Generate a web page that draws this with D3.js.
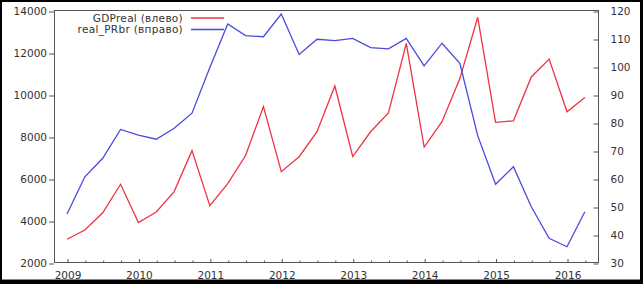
<!DOCTYPE html>
<html>
<head>
<meta charset="utf-8">
<script src="https://cdn.jsdelivr.net/npm/d3@7"></script>
<style>
    body { margin: 0; background: #fff; }
    svg text { font-family: "DejaVu Sans", Verdana, sans-serif; fill: #333; }
</style>
</head>
<body>
<svg id="chart"></svg>
<script>
let width = 643,
    height = 284;

// quarterly data, 2009Q1 .. 2016Q2
let quarters = d3.range(0, 30).map(i => 2009 + i / 4);
let gdpReal = [3130, 3570, 4390, 5750, 3930, 4430, 5400, 7350,
    4730, 5780, 7120, 9450, 6350, 7060, 8250, 10430,
    7070, 8250, 9150, 12460, 7520, 8730, 10780, 13700,
    8700, 8770, 10860, 11710, 9200, 9880];
let realPRbr = [47.5, 60.8, 67.4, 77.7, 75.7, 74.2, 78.1, 83.5,
    99.8, 115.4, 111.2, 110.8, 118.9, 104.5, 109.9, 109.4,
    110.2, 106.9, 106.5, 110.2, 100.4, 108.5, 101.3, 75.5,
    58.1, 64.4, 50.1, 38.8, 35.8, 48.3];
let yearTicks = [2009, 2010, 2011, 2012, 2013, 2014, 2015, 2016];
let leftTicks = [2000, 4000, 6000, 8000, 10000, 12000, 14000];
let rightTicks = [30, 40, 50, 60, 70, 80, 90, 100, 110, 120];
let seriesNames = ['GDPreal (влево)', 'real_PRbr (вправо)'];
let colors = ['#ee3344', '#4a4ade'];

let plot = {left: 54, right: 598, top: 11, bottom: 263};

let svg = d3.select('svg#chart')
    .attr('width', width)
    .attr('height', height);

// outer black frame
svg.append('rect').attr('width', width).attr('height', height).attr('fill', '#000');
svg.append('rect').attr('x', 2).attr('y', 2).attr('width', width - 5).attr('height', height - 6).attr('fill', '#fff');
svg.append('line').attr('x1', 2).attr('x2', width - 3).attr('y1', 279.5).attr('y2', 279.5)
    .attr('stroke', '#888').attr('stroke-width', 1);

let x = d3.scaleLinear().domain([2008.818, 2016.434]).range([plot.left, plot.right]);
let yL = d3.scaleLinear().domain([2000, 14000]).range([plot.bottom, plot.top]);
let yR = d3.scaleLinear().domain([30, 120]).range([plot.bottom, plot.top]);

// plot box
svg.append('rect')
    .attr('x', plot.left + 0.5).attr('y', plot.top - 0.5)
    .attr('width', plot.right - plot.left).attr('height', plot.bottom - plot.top)
    .attr('fill', 'none').attr('stroke', '#555').attr('stroke-width', 1);

function styleAxis(g) {
    g.select('.domain').remove();
    g.selectAll('.tick line').attr('stroke', '#555');
    g.selectAll('.tick text').attr('font-size', '10.5px').attr('fill', '#333')
        .style('font-family', '"DejaVu Sans", Verdana, sans-serif');
}

// bottom axis: minor quarter ticks, then year ticks with labels
svg.append('g')
    .attr('transform', `translate(0.5,${plot.bottom})`)
    .call(d3.axisBottom(x).tickValues(quarters.filter(q => q % 1 !== 0)).tickSize(-2.5).tickFormat(''))
    .call(styleAxis);
svg.append('g')
    .attr('transform', `translate(0.5,${plot.bottom})`)
    .call(d3.axisBottom(x).tickValues(yearTicks).tickSize(-4).tickPadding(9).tickFormat(d3.format('d')))
    .call(styleAxis);

svg.append('g')
    .attr('transform', `translate(${plot.left},0.5)`)
    .call(d3.axisLeft(yL).tickValues(leftTicks).tickSize(5).tickPadding(2).tickFormat(d3.format('d')))
    .call(styleAxis);

svg.append('g')
    .attr('transform', `translate(${plot.right + 0.5},0.5)`)
    .call(d3.axisRight(yR).tickValues(rightTicks).tickSize(-5).tickPadding(12).tickFormat(d3.format('d')))
    .call(styleAxis);

let lineL = d3.line().x((d, i) => x(quarters[i])).y(d => yL(d));
let lineR = d3.line().x((d, i) => x(quarters[i])).y(d => yR(d));

svg.append('path').datum(gdpReal)
    .attr('d', lineL).attr('fill', 'none')
    .attr('stroke', colors[0]).attr('stroke-width', 1.3).attr('stroke-linejoin', 'miter');
svg.append('path').datum(realPRbr)
    .attr('d', lineR).attr('fill', 'none')
    .attr('stroke', colors[1]).attr('stroke-width', 1.3).attr('stroke-linejoin', 'miter');

// legend
let legend = svg.append('g');
seriesNames.forEach((name, i) => {
    let ly = 18 + i * 11.5;
    legend.append('text')
        .attr('x', 183).attr('y', ly).attr('dy', '0.35em')
        .attr('text-anchor', 'end').attr('font-size', '10.5px')
        .attr('letter-spacing', '0.3px')
        .text(name);
    legend.append('line')
        .attr('x1', 191).attr('x2', 224).attr('y1', ly).attr('y2', ly)
        .attr('stroke', colors[i]).attr('stroke-width', 1.3);
});
</script>
</body>
</html>
